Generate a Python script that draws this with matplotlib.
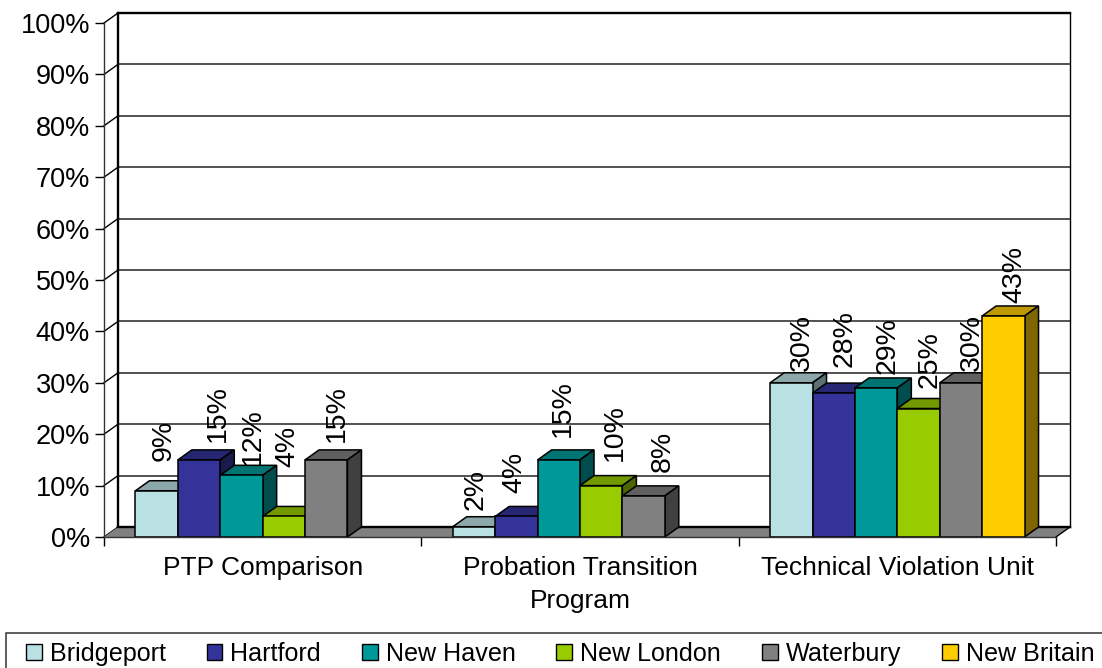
import matplotlib
matplotlib.use('Agg')
import matplotlib.pyplot as plt
from matplotlib.patches import Patch, Polygon, Rectangle

plt.rcParams['font.family'] = ['Liberation Sans', 'DejaVu Sans']

categories = ['PTP Comparison', 'Probation Transition\nProgram', 'Technical Violation Unit']
cities = ['Bridgeport', 'Hartford', 'New Haven', 'New London', 'Waterbury', 'New Britain']

bridgeport = [9, 2, 30]
hartford = [15, 4, 28]
new_haven = [12, 15, 29]
new_london = [4, 10, 25]
waterbury = [15, 8, 30]
new_britain = [None, None, 43]
series = [bridgeport, hartford, new_haven, new_london, waterbury, new_britain]

y_ticks = [0, 10, 20, 30, 40, 50, 60, 70, 80, 90, 100]

# front, top and side colours of each series
front_colors = ['#B9E0E3', '#333399', '#009999', '#99CC00', '#808080', '#FFCC00']
top_colors = ['#8CA8AA', '#262673', '#007373', '#739900', '#606060', '#BF9900']
side_colors = ['#5D7072', '#1A1A4D', '#004D4D', '#4D6600', '#404040', '#806600']

fig = plt.figure(figsize=(11.02, 6.68), dpi=100)
ax = fig.add_axes([104 / 1102, (668 - 537) / 668, 952 / 1102, 514 / 668])
ax.set_xlim(0, 3)
ax.set_ylim(0, 100)
ax.patch.set_visible(False)

# depth of the fake 3d box, in data units
depth_x = 14 / (952 / 3)
depth_y = 10 / 5.14
bar_w = 42.4 / (952 / 3)

# back wall and grid
for y in y_ticks:
    ax.plot([depth_x, 3 + depth_x], [y + depth_y, y + depth_y], color='#222222', lw=1.1,
            clip_on=False, zorder=1)
    ax.plot([0, depth_x], [y, y + depth_y], color='black', lw=1.0, clip_on=False, zorder=1)
ax.plot([depth_x, depth_x], [depth_y, 100 + depth_y], color='black', lw=1.7, clip_on=False, zorder=2)
ax.plot([depth_x, 3 + depth_x], [100 + depth_y, 100 + depth_y], color='black', lw=1.7, clip_on=False, zorder=2)
ax.plot([3 + depth_x, 3 + depth_x], [depth_y, 100 + depth_y], color='black', lw=1.0, clip_on=False, zorder=2)

# floor
ax.add_patch(Polygon([(0, 0), (depth_x, depth_y), (3 + depth_x, depth_y), (3, 0)],
                     facecolor='#808080', edgecolor='none', clip_on=False, zorder=2))
ax.plot([depth_x, 3 + depth_x], [depth_y, depth_y], color='black', lw=1.7, clip_on=False, zorder=2.5)
ax.plot([3, 3 + depth_x], [0, depth_y], color='black', lw=1.0, clip_on=False, zorder=2.5)

# labels sit behind the bars, offsets in pixels from the top of each bar's front
label_dx = [[7, 2, 11], [19, -2, 11], [11, 4, 11], [4, 14, 11], [11, 19, 11], [0, 0, 11]]
label_dy = [[30, 17, 12], [18, 23, 26], [10, 23, 14], [49, 25, 21], [18, 24, 12], [0, 0, 13]]

for i, values in enumerate(series):
    for g, v in enumerate(values):
        if v is None:
            continue
        x = g + 0.5 + (i - 2.5) * bar_w
        left = x - bar_w / 2
        right = x + bar_w / 2
        z = 4 + i * 0.1
        ax.bar(x, v, bar_w, color=front_colors[i], edgecolor='black', lw=1.1, zorder=z + 0.02, clip_on=False)
        ax.add_patch(Polygon([(left, v), (left + depth_x, v + depth_y),
                              (right + depth_x, v + depth_y), (right, v)],
                             facecolor=top_colors[i], edgecolor='black', lw=1.1, clip_on=False, zorder=z))
        ax.add_patch(Polygon([(right, 0), (right + depth_x, depth_y),
                              (right + depth_x, v + depth_y), (right, v)],
                             facecolor=side_colors[i], edgecolor='black', lw=1.1, clip_on=False, zorder=z))
        ax.annotate('%d%%' % v, xy=(x, v), xytext=(label_dx[i][g], label_dy[i][g]),
                    textcoords='offset pixels', rotation=90, ha='center', va='bottom',
                    fontsize=20.5, color='black', zorder=3, annotation_clip=False)

# axes
for name in ['top', 'right']:
    ax.spines[name].set_visible(False)
ax.spines['left'].set_color('#333333')
ax.spines['left'].set_linewidth(1.0)
ax.spines['bottom'].set_color('#333333')
ax.spines['bottom'].set_linewidth(1.0)
ax.spines['bottom'].set_zorder(6)

ax.set_yticks(y_ticks)
ax.set_yticklabels(['%d%%' % y for y in y_ticks], fontsize=19.5)
ax.tick_params(axis='y', length=6.5, width=1.0, pad=3.5)

ax.set_xticks([0, 1, 2, 3])
ax.set_xticklabels([])
ax.tick_params(axis='x', which='major', length=6.5, width=1.0)
ax.set_xticks([0.5, 1.5, 2.5], minor=True)
ax.set_xticklabels(categories, minor=True, fontsize=19, linespacing=1.45)
ax.tick_params(axis='x', which='minor', length=0, pad=14)

# legend frame runs off the right and bottom of the picture
fig.add_artist(Rectangle((6 / 1102, -10 / 668), 1110 / 1102, 45 / 668, transform=fig.transFigure,
                         facecolor='white', edgecolor='#333333', lw=1.1))
handles = [Patch(facecolor=c, edgecolor='black', lw=1.0) for c in front_colors]
leg = fig.legend(handles, cities, ncol=6, loc='center left', bbox_to_anchor=(26 / 1102, 14 / 668),
                 fontsize=18.1, frameon=False, handlelength=0.63, handleheight=0.63,
                 handletextpad=0.32, columnspacing=1.62, borderaxespad=0, borderpad=0)

fig.savefig('out.png', dpi=100)
